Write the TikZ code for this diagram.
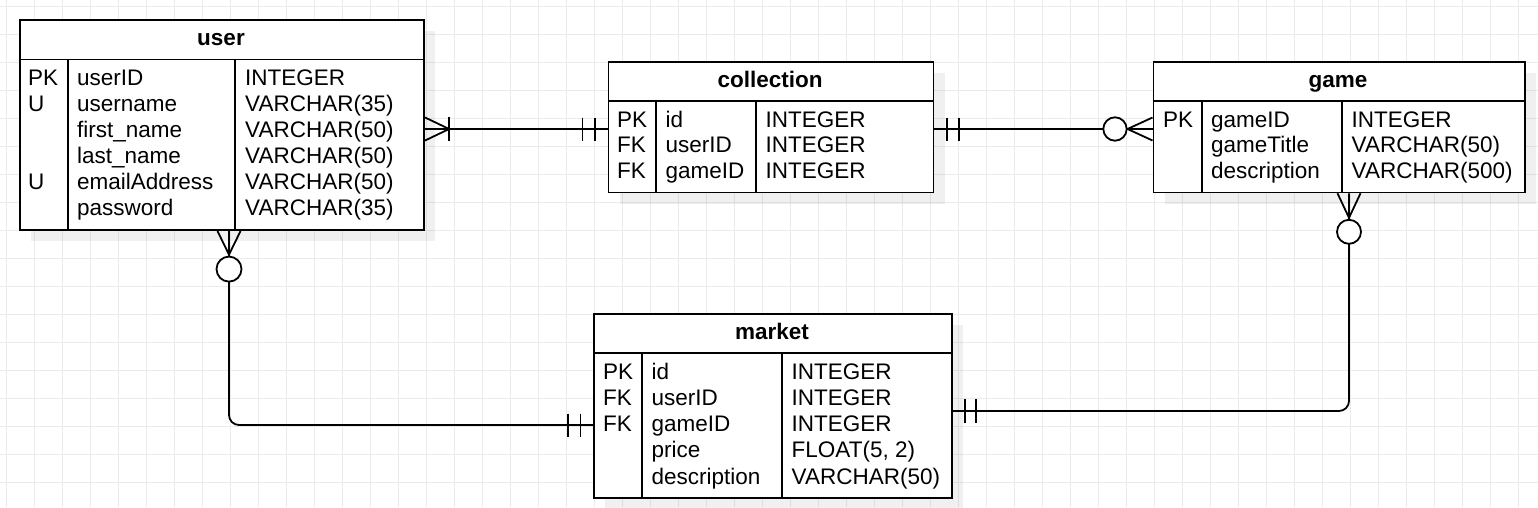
\documentclass[tikz,border=0pt]{standalone}
\usepackage{fontspec}
\setmainfont{Liberation Sans}
\usetikzlibrary{calc}
\begin{document}
\begin{tikzpicture}[x=1pt,y=-1pt,
  ln/.style={line width=1.8pt, draw=black},
  tbl/.style={ln, fill=white, inner sep=0pt, anchor=north west},
  txt/.style={anchor=base west, inner sep=0pt, font=\fontsize{22.5}{26}\selectfont},
  ttl/.style={anchor=base, inner sep=0pt, font=\fontsize{22.5}{26}\selectfont\bfseries},
  shadowbox/.style={fill=black, fill opacity=0.06, draw=none},
  gridline/.style={draw=black!8, line width=1pt},
  conn/.style={line width=1.8pt, draw=black, rounded corners=10pt},
  circ/.style={line width=1.8pt, draw=black, fill=white}]
\useasboundingbox (0,0) rectangle (1538,507);
\fill[white] (0,0) rectangle (1538,507);
\foreach \i in {0,...,54} \draw[gridline] (6+28*\i,0) -- (6+28*\i,507);
\foreach \j in {0,...,18} \draw[gridline] (0,6+28*\j) -- (1538,6+28*\j);

% shadows
\fill[shadowbox] (31,31) rectangle (435.3,241.3);
\fill[shadowbox] (619.5,72.7) rectangle (944.5,203.5);
\fill[shadowbox] (1164.5,72.7) rectangle (1536,203.5);
\fill[shadowbox] (605,325) rectangle (963,508.7);

% ---------- user ----------
\node[tbl, minimum width=404.3pt, minimum height=210.3pt] (user) at (19,19) {};
\draw[ln] (user.west |- 0,59.5) -- (user.east |- 0,59.5);
\draw[ln] (68,59.5) -- (68,229.3);
\draw[ln] (235,59.5) -- (235,229.3);
\node[ttl] (userT) at (221,45.5) {user};
\node[txt] (uk1) at (28,85.8) {PK};
\node[txt] (uk2) at (28,111.8) {U};
\node[txt] (uk5) at (28,189.8) {U};
\node[txt] (un1) at (77,85.8) {userID};
\node[txt] (un2) at (77,111.8) {username};
\node[txt] (un3) at (77,137.8) {first\_name};
\node[txt] (un4) at (77,163.8) {last\_name};
\node[txt] (un5) at (77,189.8) {emailAddress};
\node[txt] (un6) at (77,215.8) {password};
\node[txt] (ut1) at (245,85.8) {INTEGER};
\node[txt] (ut2) at (245,111.8) {VARCHAR(35)};
\node[txt] (ut3) at (245,137.8) {VARCHAR(50)};
\node[txt] (ut4) at (245,163.8) {VARCHAR(50)};
\node[txt] (ut5) at (245,189.8) {VARCHAR(50)};
\node[txt] (ut6) at (245,215.8) {VARCHAR(35)};

% ---------- collection ----------
\node[tbl, minimum width=325pt, minimum height=130.8pt] (coll) at (607.5,60.7) {};
\draw[ln] (coll.west |- 0,101) -- (coll.east |- 0,101);
\draw[ln] (656,101) -- (656,191.5);
\draw[ln] (756,101) -- (756,191.5);
\node[ttl] (collT) at (770,87.2) {collection};
\node[txt] (ck1) at (617,127.3) {PK};
\node[txt] (ck2) at (617,152.9) {FK};
\node[txt] (ck3) at (617,178.5) {FK};
\node[txt] (cn1) at (665.5,127.3) {id};
\node[txt] (cn2) at (665.5,152.9) {userID};
\node[txt] (cn3) at (665.5,178.5) {gameID};
\node[txt] (ct1) at (765.5,127.3) {INTEGER};
\node[txt] (ct2) at (765.5,152.9) {INTEGER};
\node[txt] (ct3) at (765.5,178.5) {INTEGER};

% ---------- game ----------
\node[tbl, minimum width=371.5pt, minimum height=130.8pt] (game) at (1152.5,60.7) {};
\draw[ln] (game.west |- 0,101) -- (game.east |- 0,101);
\draw[ln] (1202,101) -- (1202,191.5);
\draw[ln] (1342,101) -- (1342,191.5);
\node[ttl] (gameT) at (1338,87.2) {game};
\node[txt] (gk1) at (1163,127.3) {PK};
\node[txt] (gn1) at (1211,127.3) {gameID};
\node[txt] (gn2) at (1211,152.9) {gameTitle};
\node[txt] (gn3) at (1211,178.5) {description};
\node[txt] (gt1) at (1351.5,127.3) {INTEGER};
\node[txt] (gt2) at (1351.5,152.9) {VARCHAR(50)};
\node[txt] (gt3) at (1351.5,178.5) {VARCHAR(500)};

% ---------- market ----------
\node[tbl, minimum width=358pt, minimum height=183.7pt] (market) at (593,313) {};
\draw[ln] (market.west |- 0,353) -- (market.east |- 0,353);
\draw[ln] (642,353) -- (642,496.7);
\draw[ln] (782,353) -- (782,496.7);
\node[ttl] (marketT) at (772,339.2) {market};
\node[txt] (mk1) at (603,379.3) {PK};
\node[txt] (mk2) at (603,405.5) {FK};
\node[txt] (mk3) at (603,431.7) {FK};
\node[txt] (mn1) at (651.5,379.3) {id};
\node[txt] (mn2) at (651.5,405.5) {userID};
\node[txt] (mn3) at (651.5,431.7) {gameID};
\node[txt] (mn4) at (651.5,457.9) {price};
\node[txt] (mn5) at (651.5,484.1) {description};
\node[txt] (mt1) at (791.5,379.3) {INTEGER};
\node[txt] (mt2) at (791.5,405.5) {INTEGER};
\node[txt] (mt3) at (791.5,431.7) {INTEGER};
\node[txt] (mt4) at (791.5,457.9) {FLOAT(5, 2)};
\node[txt] (mt5) at (791.5,484.1) {VARCHAR(50)};

% ---------- user -> collection ----------
\coordinate (uR) at (user.east |- 0,129);
\coordinate (cL) at (coll.west |- 0,129);
\draw[conn] (uR) -- (cL);
\draw[ln] ($(uR)+(0,-11.5)$) -- ($(uR)+(24,0)$) -- ($(uR)+(0,11.5)$);
\draw[ln] ($(uR)+(24,-12)$) -- ($(uR)+(24,12)$);
\draw[ln] ($(cL)+(-12.5,-11.5)$) -- ($(cL)+(-12.5,11.5)$);
\draw[ln] ($(cL)+(-25,-11.5)$) -- ($(cL)+(-25,11.5)$);

% ---------- collection -> game ----------
\coordinate (cR) at (coll.east |- 0,129);
\coordinate (gL) at (game.west |- 0,129);
\draw[conn] (cR) -- (gL);
\draw[ln] ($(cR)+(12.5,-11.5)$) -- ($(cR)+(12.5,11.5)$);
\draw[ln] ($(cR)+(25,-11.5)$) -- ($(cR)+(25,11.5)$);
\draw[ln] ($(gL)+(0,-11.5)$) -- ($(gL)+(-25,0)$) -- ($(gL)+(0,11.5)$);
\draw[circ] ($(gL)+(-37.5,0)$) circle (11.7);

% ---------- game -> market ----------
\coordinate (gB) at (game.south -| 1349,0);
\coordinate (mR) at (market.east |- 0,411);
\draw[conn] (gB) -- (gB |- mR) -- (mR);
\draw[ln] ($(gB)+(-11.5,0)$) -- ($(gB)+(0,24.5)$) -- ($(gB)+(11.5,0)$);
\draw[circ] ($(gB)+(0,38.5)$) circle (12);
\draw[ln] ($(mR)+(12,-12)$) -- ($(mR)+(12,12)$);
\draw[ln] ($(mR)+(23.5,-12)$) -- ($(mR)+(23.5,12)$);

% ---------- user -> market ----------
\coordinate (uB) at (user.south -| 229,0);
\coordinate (mL) at (market.west |- 0,425);
\draw[conn] (uB) -- (uB |- mL) -- (mL);
\draw[ln] ($(uB)+(-11.5,0)$) -- ($(uB)+(0,23.5)$) -- ($(uB)+(11.5,0)$);
\draw[circ] ($(uB)+(0,38)$) circle (12.5);
\draw[ln] ($(mL)+(-12.5,-11.5)$) -- ($(mL)+(-12.5,11.5)$);
\draw[ln] ($(mL)+(-25,-11.5)$) -- ($(mL)+(-25,11.5)$);
\end{tikzpicture}
\end{document}
